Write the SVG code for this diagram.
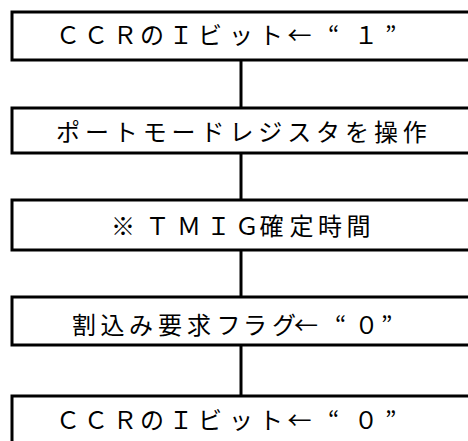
<svg xmlns="http://www.w3.org/2000/svg" width="468" height="441" viewBox="0 0 468 441">
<style>
.box{fill:#fff;stroke:#000;stroke-width:3}
.conn{stroke:#000;stroke-width:3;fill:none}
.lbl{font-family:"Noto Sans CJK JP","Noto Sans",sans-serif;font-size:24px;fill:#000}
</style>
<rect width="468" height="441" fill="#fff"/>
<g id="connectors">
<line class="conn" x1="241" y1="60" x2="241" y2="108"/>
<line class="conn" x1="241" y1="153" x2="241" y2="200"/>
<line class="conn" x1="241" y1="250" x2="241" y2="297"/>
<line class="conn" x1="241" y1="345" x2="241" y2="396"/>
</g>
<g id="node1">
<rect class="box" x="12" y="12" width="470" height="48"/>
<text class="lbl" x="56 84 113 140 169 198 229 259 287.5 328 354 385" y="44">ＣＣＲのＩビット←“１”</text>
</g>
<g id="node2">
<rect class="box" x="12" y="108" width="470" height="45"/>
<text class="lbl" x="56" y="141" letter-spacing="4.9">ポートモードレジスタを操作</text>
</g>
<g id="node3">
<rect class="box" x="12" y="200" width="470" height="50"/>
<text class="lbl" x="111 145.5 177 206.5 235 259.5 289.5 318 346.5" y="235">※ＴＭＩＧ確定時間</text>
</g>
<g id="node4">
<rect class="box" x="12" y="297" width="470" height="48"/>
<text class="lbl" x="72 100.5 129 158 187 216.5 243 272 294 335 354.5 381" y="334">割込み要求フラグ←“０”</text>
</g>
<g id="node5">
<rect class="box" x="12" y="396" width="470" height="60"/>
<text class="lbl" x="56 84 113 140 169 198 229 259 287.5 328 354 385" y="429">ＣＣＲのＩビット←“０”</text>
</g>
</svg>
